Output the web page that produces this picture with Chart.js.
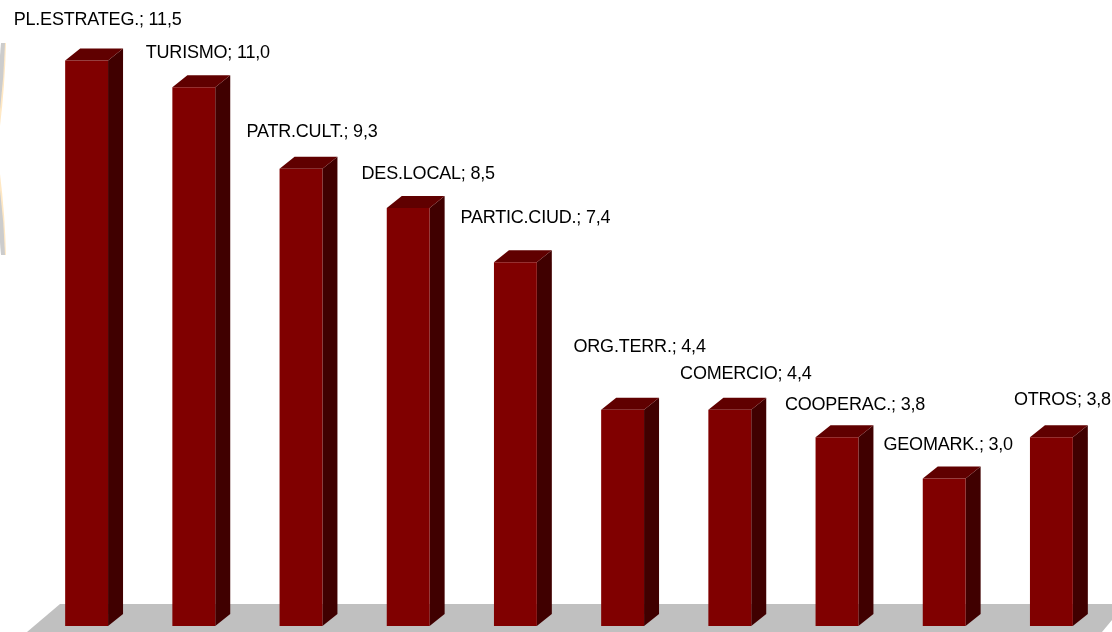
<!DOCTYPE html>
<html>
<head>
<meta charset="utf-8">
<title>Chart</title>
<script src="https://cdn.jsdelivr.net/npm/chart.js@4"></script>
<style>
  html, body { margin: 0; padding: 0; background: #ffffff; overflow: hidden; }
  #wrap { position: relative; width: 1112px; height: 632px; }
</style>
</head>
<body>
<div id="wrap"><canvas id="chart"></canvas></div>
<script>
const categories = ['PL.ESTRATEG.', 'TURISMO', 'PATR.CULT.', 'DES.LOCAL', 'PARTIC.CIUD.', 'ORG.TERR.', 'COMERCIO', 'COOPERAC.', 'GEOMARK.', 'OTROS'];
// The labels show them rounded to one decimal
const values = [11.5, 10.96, 9.3, 8.5, 7.4, 4.4, 4.4, 3.84, 3.0, 3.84];

// Label offsets from the top centre of each bar
const labelDx = [11, 14, 11, 20, 20, 17, 16, 18, 4, 11];
const labelDy = [-41, -34, -37, -34, -44, -63, -36, -32, -33, -37];

// Depth of the fake 3D extrusion
const depthX = 15;
const depthY = 12;

function poly(ctx, pts, color) {
  ctx.fillStyle = color;
  ctx.beginPath();
  pts.forEach(function (p, i) {
    if (i === 0) ctx.moveTo(p[0], p[1]);
    else ctx.lineTo(p[0], p[1]);
  });
  ctx.closePath();
  ctx.fill();
}

// Part of a crescent that gets clipped by the left edge of the picture
function crescent(ctx, y1, y2, x1, color) {
  ctx.fillStyle = color;
  ctx.beginPath();
  ctx.moveTo(x1, y1);
  ctx.quadraticCurveTo(x1 - 1, (y1 + y2) / 2, 0, y2);
  ctx.lineTo(0, y2);
  ctx.quadraticCurveTo(-2, (y1 + y2) / 2, x1 - 4, y1);
  ctx.closePath();
  ctx.fill();
}

// Grey floor under the bars, plus the faint crescent at the left edge
const floorPlugin = {
  id: 'floor',
  beforeDatasetsDraw(chart) {
    const ctx = chart.ctx;
    const base = chart.scales.y.getPixelForValue(0);
    poly(ctx, [[60, base - 22], [1112, base - 22], [1112, 620], [1102, 632], [27, 632]], '#c0c0c0');

    crescent(ctx, 43, 126, 6, '#ffe8c4');
    crescent(ctx, 43, 110, 5, '#cccccc');
    crescent(ctx, 255, 174, 6, '#ffe8c4');
    crescent(ctx, 255, 190, 5, '#cccccc');
  }
};

// Side and top faces of each bar
const depthPlugin = {
  id: 'depth',
  beforeDatasetsDraw(chart) {
    const ctx = chart.ctx;
    chart.getDatasetMeta(0).data.forEach(function (bar) {
      const r = bar.x + bar.width / 2;
      const l = bar.x - bar.width / 2;
      poly(ctx, [[r, bar.y], [r + depthX, bar.y - depthY], [r + depthX, bar.base - depthY], [r, bar.base]], '#400000');
      poly(ctx, [[l, bar.y], [l + depthX, bar.y - depthY], [r + depthX, bar.y - depthY], [r, bar.y]], '#600000');
    });
  }
};

// "Name; value" labels
const labelPlugin = {
  id: 'barLabels',
  afterDatasetsDraw(chart) {
    const ctx = chart.ctx;
    ctx.save();
    ctx.font = '18px "Liberation Sans"';
    ctx.letterSpacing = '-0.2px';
    ctx.fillStyle = '#000000';
    ctx.textAlign = 'center';
    ctx.textBaseline = 'middle';
    chart.getDatasetMeta(0).data.forEach(function (bar, i) {
      const text = categories[i] + '; ' + values[i].toFixed(1).replace('.', ',');
      ctx.fillText(text, bar.x + labelDx[i], bar.y + labelDy[i]);
    });
    ctx.restore();
  }
};

new Chart(document.getElementById('chart'), {
  type: 'bar',
  data: {
    labels: categories,
    datasets: [{
      data: values,
      backgroundColor: '#800000',
      barPercentage: 0.4,
      categoryPercentage: 1
    }]
  },
  options: {
    responsive: true,
    maintainAspectRatio: false,
    animation: false,
    layout: { padding: { left: 33, right: 7, top: 36, bottom: 6 } },
    plugins: { legend: { display: false }, tooltip: { enabled: false } },
    scales: {
      x: { display: false },
      y: { display: false, min: 0, max: 12 }
    }
  },
  plugins: [floorPlugin, depthPlugin, labelPlugin]
});
</script>
</body>
</html>
